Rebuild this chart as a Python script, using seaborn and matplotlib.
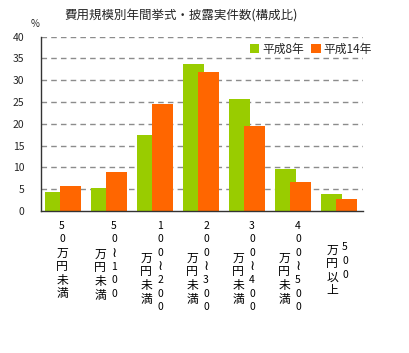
import numpy as np
import pandas as pd
import matplotlib
matplotlib.use("Agg")
import matplotlib.pyplot as plt
import matplotlib.transforms as mtransforms
from matplotlib.patches import Patch
import seaborn as sns

# ---- data ----
categories = ["50万円未満", "50~100万円未満", "100~200万円未満", "200~300万円未満",
              "300~400万円未満", "400~500万円未満", "500万円以上"]
series_names = ["平成8年", "平成14年"]
h8_values = [4.4, 5.3, 17.4, 33.7, 25.7, 9.6, 3.9]
h14_values = [5.7, 8.9, 24.6, 31.9, 19.5, 6.7, 2.8]
yticks = [0, 5, 10, 15, 20, 25, 30, 35, 40]
title = "費用規模別年間挙式・披露実件数(構成比)"
unit_label = "%"
colors = ["#99CC00", "#FF6600"]

df = pd.DataFrame({
    "cat": categories * 2,
    "series": [series_names[0]] * len(categories) + [series_names[1]] * len(categories),
    "value": h8_values + h14_values,
})

sns.set_style("white")
plt.rcParams['font.family'] = ['Noto Sans CJK JP', 'DejaVu Sans']

W, H = 410, 353
fig = plt.figure(figsize=(W / 100, H / 100), dpi=100)
ax = fig.add_axes([41 / W, 1 - 211 / H, (363 - 41) / W, (211 - 36.7) / H])

sns.barplot(data=df, x="cat", y="value", hue="series", hue_order=series_names,
            order=categories, palette=colors, width=0.914, gap=0, dodge=True,
            saturation=1, legend=False, ax=ax, errorbar=None)

# shift bars so that the orange bar overlaps the green one
shifts = [0.0435, -0.0875]
for cont, s in zip(ax.containers, shifts):
    for p in cont.patches:
        p.set_x(p.get_x() + s)
        p.set_edgecolor("none")
        p.set_linewidth(0)

ax.set_xlim(-0.5, len(categories) - 0.5)
ax.set_ylim(0, 40)
ax.set_yticks(yticks)
ax.set_yticklabels([str(t) for t in yticks], fontsize=7.5)
ax.tick_params(axis="y", length=0, pad=12)
ax.set_xticks(np.arange(len(categories) - 1) + 0.5)
ax.set_xticklabels([])
ax.tick_params(axis="x", direction="out", length=2.5, width=1, color="#333333")
ax.set_xlabel("")
ax.set_ylabel("")
for t in yticks[1:]:
    ax.axhline(t, color="#8c8c8c", lw=1, ls=(0, (4, 3)), zorder=0)
for sp in ["top", "right"]:
    ax.spines[sp].set_visible(False)
for sp in ["left", "bottom"]:
    ax.spines[sp].set_color("#333333")
    ax.spines[sp].set_linewidth(1)

# vertical category labels
blend = mtransforms.blended_transform_factory(ax.transData, fig.transFigure)
pitch = 13.6
for i, lab in enumerate(categories):
    k = lab.index("万")
    num, unit = lab[:k], lab[k:]
    if i == 0:
        cols = [(lab, -2, 225.7)]
    elif i == len(categories) - 1:
        cols = [(num, 5, 247.3), (unit, -8, 250.0)]
    elif i == 1:
        cols = [(num, 4, 225.7), (unit, -10, 254.3)]
    else:
        cols = [(num, 4, 225.7), (unit, -10, 258.3)]
    for text, dx, top in cols:
        tr = mtransforms.offset_copy(blend, fig=fig, x=dx * 0.72, y=0, units="points")
        for j, ch in enumerate(text):
            if ch == "~":
                disp, fs = "≀", 10
            elif ch.isdigit():
                disp, fs = ch, 7.5
            else:
                disp, fs = ch, 8.5
            ax.text(i, 1 - (top + j * pitch) / H, disp, transform=tr,
                    ha="center", va="center", fontsize=fs, color="black", clip_on=False)

fig.text(181 / W, 1 - 16 / H, title, ha="center", va="center", fontsize=9)
fig.text(35 / W, 1 - 24 / H, unit_label, ha="center", va="center", fontsize=7)

handles = [Patch(facecolor=c, edgecolor="none") for c in colors]
fig.legend(handles, series_names, loc="center right", bbox_to_anchor=(372 / W, 1 - 49 / H),
           ncol=2, frameon=False, fontsize=8.5, handlelength=0.8, handleheight=0.8,
           handletextpad=0.25, columnspacing=0.6, borderpad=0, borderaxespad=0)

fig.savefig("out.png", dpi=100)
